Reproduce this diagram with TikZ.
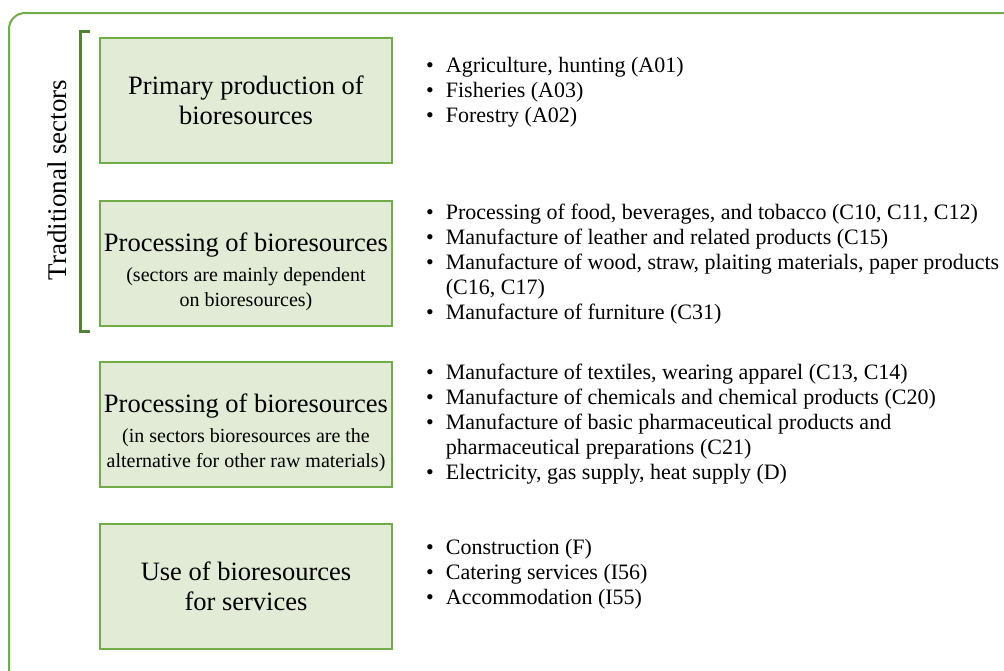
\documentclass[tikz,border=0pt]{standalone}
\usepackage{fontspec}
\setmainfont{Liberation Serif}
\usepackage{xcolor}
\definecolor{leafgreen}{HTML}{70AD47}
\definecolor{darkleaf}{HTML}{548235}
\definecolor{boxfill}{HTML}{E2EBD5}
\newcommand{\itm}{\textbullet\hspace{12pt}}
\newcommand{\cont}{\hphantom{\textbullet\hspace{12pt}}}
\newcommand{\subtxt}[1]{{\fontsize{20}{25}\selectfont #1}}

\begin{document}
\begin{tikzpicture}[x=1pt, y=-1pt,
    sectorbox/.style={draw=leafgreen, line width=2pt, fill=boxfill, align=center, minimum width=292pt, minimum height=125pt, inner sep=0pt, font=\fontsize{26.5}{30}\selectfont},
    itemlist/.style={anchor=west, align=left, inner sep=0pt, font=\fontsize{22}{25}\selectfont}]
    % Page size and outer frame
    \useasboundingbox (0,0) rectangle (1004,670);
    \clip (0,0) rectangle (1004,670);
    \fill[white] (0,0) rectangle (1004,670);
    \draw[leafgreen, line width=2pt, rounded corners=16pt] (9,13) rectangle (1030,700);

    % Sector boxes
    \node[sectorbox] (Primary)    at (246,100) {Primary production of\\ bioresources};
    \node[sectorbox] (Dependent)  at (246,263)   {\rule{0pt}{36pt}Processing of bioresources\\[0pt] \subtxt{(sectors are mainly dependent}\\[-5pt] \subtxt{on bioresources)}};
    \node[sectorbox] (Alternative)at (246,424)   {\rule{0pt}{36pt}Processing of bioresources\\[0pt] \subtxt{(in sectors bioresources are the}\\[-5pt] \subtxt{alternative for other raw materials)}};
    \node[sectorbox] (Services)   at (246,586)   {Use of bioresources\\ for services};

    % Bracket for the traditional sectors
    \coordinate (BrTop) at (90,31);
    \coordinate (BrBot) at (90,331);
    \draw[darkleaf, line width=3pt] (BrTop) -- ++(-10,0) -- ++(0,300) -- (BrBot);
    \node (Traditional) [rotate=90, font=\fontsize{27}{30}\selectfont, inner sep=0pt] at (57,180) {Traditional sectors};

    % Lists of sectors
    \node[itemlist] (PrimaryList) at (426,92.5) {\itm Agriculture, hunting (A01)\\ \itm Fisheries (A03)\\ \itm Forestry (A02)};
    \node[itemlist] (DependentList) at (426,264) {\itm Processing of food, beverages, and tobacco (C10, C11, C12)\\ \itm Manufacture of leather and related products (C15)\\ \itm Manufacture of wood, straw, plaiting materials, paper products\\ \cont (C16, C17)\\ \itm Manufacture of furniture (C31)};
    \node[itemlist] (AlternativeList) at (426,424.5) {\itm Manufacture of textiles, wearing apparel (C13, C14)\\ \itm Manufacture of chemicals and chemical products (C20)\\ \itm Manufacture of basic pharmaceutical products and\\ \cont pharmaceutical preparations (C21)\\ \itm Electricity, gas supply, heat supply (D)};
    \node[itemlist] (ServicesList) at (426,574) {\itm Construction (F)\\ \itm Catering services (I56)\\ \itm Accommodation (I55)};
\end{tikzpicture}
\end{document}
